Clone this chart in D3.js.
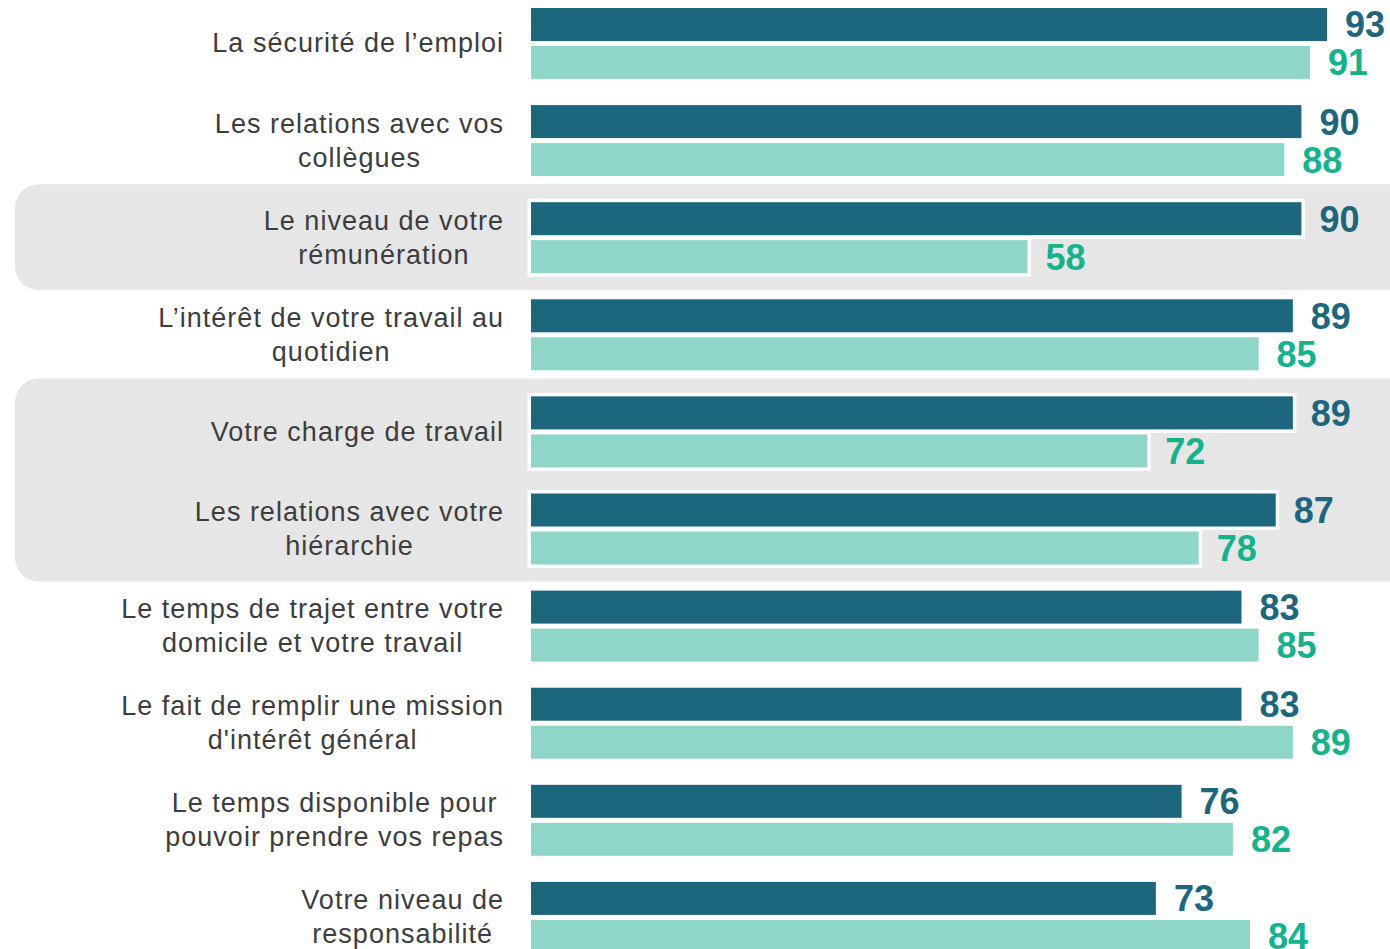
<!DOCTYPE html>
<html><head><meta charset="utf-8">
<script src="https://cdn.jsdelivr.net/npm/d3@7"></script>
<style>
html,body{margin:0;padding:0;background:#fff;}
svg{display:block;}
</style></head>
<body>
<svg id="chart" width="1390" height="949"></svg>
<script>
const categories = [
  ["La sécurité de l’emploi"],
  ["Les relations avec vos", "collègues"],
  ["Le niveau de votre", "rémunération"],
  ["L’intérêt de votre travail au", "quotidien"],
  ["Votre charge de travail"],
  ["Les relations avec votre", "hiérarchie"],
  ["Le temps de trajet entre votre", "domicile et votre travail"],
  ["Le fait de remplir une mission", "d'intérêt général"],
  ["Le temps disponible pour", "pouvoir prendre vos repas"],
  ["Votre niveau de", "responsabilité"]
];
const seriesA = [93, 90, 90, 89, 89, 87, 83, 83, 76, 73];
const seriesB = [91, 88, 58, 85, 72, 78, 85, 89, 82, 84];
const highlightGroups = [[2, 2], [4, 5]];

const svg = d3.select("#chart");
const ids = categories.map((d, i) => i);
const x = d3.scaleLinear().domain([0, 100]).range([531, 1387]);
const y = d3.scaleBand().domain(ids).range([8, 952.9]).paddingInner(0.269).paddingOuter(0);
const ySub = d3.scaleBand().domain(["a", "b"]).range([0, y.bandwidth()]).paddingInner(5 / 38);

const colA = "#1c677e", colB = "#8ed7c8", txtA = "#1c677e", txtB = "#13b38b";

// highlight bands
svg.selectAll("rect.hl").data(highlightGroups).join("rect")
  .attr("class", "hl")
  .attr("x", 15)
  .attr("y", d => y(d[0]) - 18)
  .attr("width", 1420)
  .attr("height", d => y(d[1]) + y.bandwidth() + 17 - (y(d[0]) - 18))
  .attr("rx", 24).attr("ry", 24)
  .attr("fill", "#e6e6e6");

const bars = [];
ids.forEach(i => {
  bars.push({ i, s: "a", v: seriesA[i] });
  bars.push({ i, s: "b", v: seriesB[i] });
});

const g = svg.append("g");
// white outline
g.selectAll("rect.outline").data(bars).join("rect")
  .attr("class", "outline")
  .attr("x", x(0) - 3.5)
  .attr("y", d => y(d.i) + ySub(d.s) - 3.5)
  .attr("width", d => x(d.v) - x(0) + 7)
  .attr("height", ySub.bandwidth() + 7)
  .attr("fill", "#fff");
g.selectAll("rect.bar").data(bars).join("rect")
  .attr("class", "bar")
  .attr("x", x(0))
  .attr("y", d => y(d.i) + ySub(d.s))
  .attr("width", d => x(d.v) - x(0))
  .attr("height", ySub.bandwidth())
  .attr("fill", d => d.s === "a" ? colA : colB);

// value labels
g.selectAll("text.val").data(bars).join("text")
  .attr("class", "val")
  .attr("x", d => x(d.v) + 18)
  .attr("y", d => y(d.i) + ySub(d.s) + ySub.bandwidth() / 2 + 13)
  .attr("font-family", "'Liberation Sans', Arial, sans-serif")
  .attr("font-weight", "bold")
  .attr("font-size", 36)
  .attr("fill", d => d.s === "a" ? txtA : txtB)
  .text(d => d.v);

// category labels
const labelRight = 503;
const lab = svg.append("g");
categories.forEach((lines, i) => {
  const cy = y(i) + y.bandwidth() / 2;
  const t = lab.append("text")
    .attr("font-family", "'Liberation Sans', Arial, sans-serif")
    .attr("font-size", 27)
    .attr("letter-spacing", 1)
    .attr("fill", "#3d3d3d")
    .attr("text-anchor", "middle");
  const spans = lines.map(ln => t.append("tspan").text(ln));
  let maxW = 0;
  spans.forEach(s => { maxW = Math.max(maxW, s.node().getComputedTextLength()); });
  const cx = labelRight + 1 - maxW / 2;
  const lh = 34;
  spans.forEach((s, k) => {
    s.attr("x", cx).attr("y", cy + 9 + (k - (lines.length - 1) / 2) * lh);
  });
});
</script>
</body></html>
